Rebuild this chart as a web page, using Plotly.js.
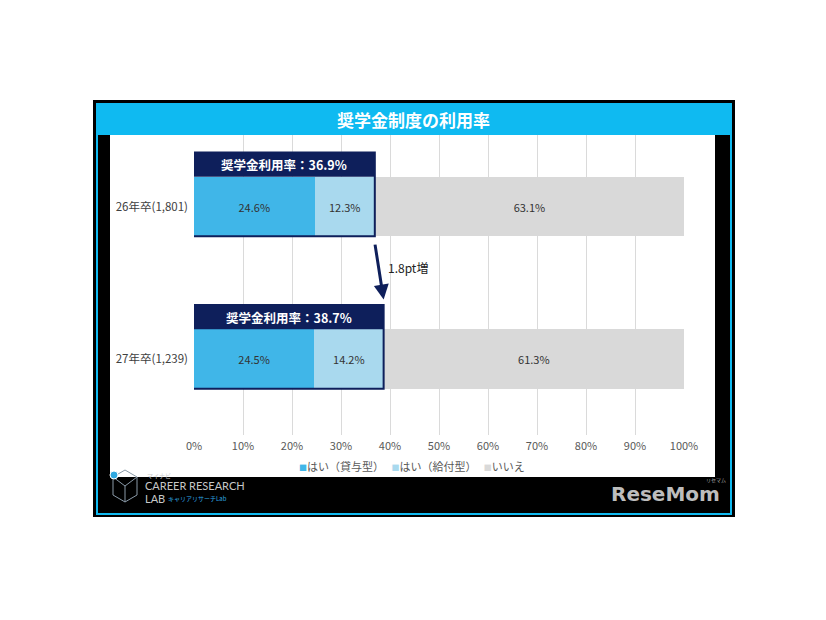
<!DOCTYPE html>
<html>
<head>
<meta charset="utf-8">
<script src="https://cdn.plot.ly/plotly-3.0.1.min.js"></script>
<style>html,body{margin:0;padding:0;background:#fff;}#chart{width:826px;height:620px;}</style>
</head>
<body>
<div id="chart"></div>
<script>
// ---- data ----
const chartTitle = '奨学金制度の利用率';
const categories = ['26年卒(1,801)', '27年卒(1,239)'];
const seriesNames = ['はい（貸与型）', 'はい（給付型）', 'いいえ'];
const loanValues = [24.6, 24.5];
const grantValues = [12.3, 14.2];
const noValues = [63.1, 61.3];
const usageRates = [36.9, 38.7];
const usageLabel = '奨学金利用率：';
const diffLabel = '1.8pt増';
const xTickValues = [0, 10, 20, 30, 40, 50, 60, 70, 80, 90, 100];

// ---- styles ----
const FONT = 'Noto Sans CJK JP, Noto Sans, sans-serif';
const colors = ['#40B6E8', '#A9D9EE', '#D9D9D9'];
const NAVY = '#0E1F5B';
const CYAN = '#0FBAF1';
const PLOT_L = 194, PLOT_R = 684, PLOT_T = 135, PLOT_B = 435;
const PX = p => (p - PLOT_L) / (PLOT_R - PLOT_L);
const PY = p => (PLOT_B - p) / (PLOT_B - PLOT_T);
const HALF = 0.195, HEAD = 0.16;

const seriesValues = [loanValues, grantValues, noValues];
const traces = seriesValues.map((vals, k) => ({
  type: 'bar', orientation: 'h', name: seriesNames[k],
  x: vals, y: categories,
  marker: {color: colors[k], line: {width: 0}},
  width: HALF * 2,
  text: vals.map(v => v.toFixed(1) + '%'),
  textposition: 'inside', insidetextanchor: 'middle', constraintext: 'none',
  textfont: {family: FONT, size: 11, color: '#333'},
  hoverinfo: 'skip', showlegend: false
}));

const shapes = [
  {type: 'rect', xref: 'paper', yref: 'paper', x0: PX(93), x1: PX(735), y0: PY(517), y1: PY(100), fillcolor: '#000', line: {width: 0}, layer: 'below'},
  {type: 'rect', xref: 'paper', yref: 'paper', x0: PX(110), x1: PX(715), y0: PY(477), y1: PY(135), fillcolor: '#fff', line: {width: 0}, layer: 'below'},
  {type: 'rect', xref: 'paper', yref: 'paper', x0: PX(96), x1: PX(732), y0: PY(135), y1: PY(103), fillcolor: CYAN, line: {width: 0}, layer: 'below'},
  {type: 'rect', xref: 'paper', yref: 'paper', x0: PX(97), x1: PX(731), y0: PY(514), y1: PY(104), fillcolor: 'rgba(0,0,0,0)', line: {color: CYAN, width: 2}, layer: 'below'},
  // logo icon
  {type: 'path', xref: 'paper', yref: 'paper',
   path: `M${PX(125)},${PY(470)} L${PX(137)},${PY(477)} L${PX(137)},${PY(495)} L${PX(125)},${PY(502)} L${PX(113)},${PY(495)} L${PX(113)},${PY(477)} Z M${PX(113)},${PY(477)} L${PX(125)},${PY(486)} L${PX(137)},${PY(477)} M${PX(125)},${PY(486)} L${PX(125)},${PY(502)}`,
   line: {color: '#8a9aa8', width: 1}, layer: 'above'},
  {type: 'circle', xref: 'paper', yref: 'paper', x0: PX(110), x1: PX(118), y0: PY(479), y1: PY(471), fillcolor: '#2FA8E0', line: {color: '#fff', width: 1}, layer: 'above'}
];

const annotations = [
  {xref: 'paper', yref: 'paper', x: PX(413), y: PY(119), text: '<b>' + chartTitle + '</b>', showarrow: false,
   font: {family: FONT, size: 17, color: '#fff'}, xanchor: 'center', yanchor: 'middle'}
];

usageRates.forEach((r, i) => {
  shapes.push({type: 'rect', xref: 'x', yref: 'y', x0: -0.4, x1: r, y0: i - HALF - HEAD, y1: i - HALF, fillcolor: NAVY, line: {width: 0}, layer: 'above'});
  shapes.push({type: 'rect', xref: 'x', yref: 'y', x0: -0.4, x1: r, y0: i - HALF - HEAD, y1: i + HALF, fillcolor: 'rgba(0,0,0,0)', line: {color: NAVY, width: 2}, layer: 'above'});
  annotations.push({xref: 'x', yref: 'y', x: r / 2, y: i - HALF - HEAD / 2, text: '<b>' + usageLabel + r.toFixed(1) + '%</b>', showarrow: false,
    font: {family: FONT, size: 12.5, color: '#fff'}, xanchor: 'center', yanchor: 'middle'});
});

annotations.push({xref: 'x', yref: 'y', axref: 'x', ayref: 'y',
  x: usageRates[1], y: 1 - HALF - HEAD - 0.035, ax: usageRates[0], ay: HALF + 0.045,
  text: '', showarrow: true, arrowhead: 2, arrowsize: 1, arrowwidth: 3, arrowcolor: NAVY});
annotations.push({xref: 'x', yref: 'y', x: 39.2, y: 0.40, text: diffLabel, showarrow: false,
  font: {family: FONT, size: 12, color: '#222'}, xanchor: 'left', yanchor: 'middle'});

// legend (drawn as text so the small square sits right next to each label)
const legendText = seriesNames.map((n, k) =>
  `<span style="color:${colors[k]};font-size:8px">■</span>${n}`).join('   ');
annotations.push({xref: 'paper', yref: 'paper', x: PX(412), y: PY(466), text: legendText, showarrow: false,
  font: {family: FONT, size: 11, color: '#595959'}, xanchor: 'center', yanchor: 'middle'});

// bottom logos
annotations.push({xref: 'paper', yref: 'paper', x: PX(145), y: PY(475), text: 'マイナビ', showarrow: false,
  font: {family: FONT, size: 6, color: '#ccc'}, xanchor: 'left', yanchor: 'middle'});
annotations.push({xref: 'paper', yref: 'paper', x: PX(143), y: PY(485), text: 'CAREER RESEARCH', showarrow: false,
  font: {family: 'Lato, sans-serif', size: 11, color: '#c8c8c8'}, xanchor: 'left', yanchor: 'middle'});
annotations.push({xref: 'paper', yref: 'paper', x: PX(143), y: PY(498), text: 'LAB', showarrow: false,
  font: {family: 'Lato, sans-serif', size: 11, color: '#c8c8c8'}, xanchor: 'left', yanchor: 'middle'});
annotations.push({xref: 'paper', yref: 'paper', x: PX(166), y: PY(498), text: 'キャリアリサーチLab', showarrow: false,
  font: {family: FONT, size: 6, color: '#2FA8E0'}, xanchor: 'left', yanchor: 'middle'});
annotations.push({xref: 'paper', yref: 'paper', x: PX(722), y: PY(494), text: '<b>ReseMom</b>', showarrow: false,
  font: {family: 'DejaVu Sans, sans-serif', size: 20, color: '#bdbdbd'}, xanchor: 'right', yanchor: 'middle'});
annotations.push({xref: 'paper', yref: 'paper', x: PX(716), y: PY(480), text: 'リセマム', showarrow: false,
  font: {family: FONT, size: 5, color: '#aaa'}, xanchor: 'center', yanchor: 'middle'});

const layout = {
  width: 826, height: 620,
  margin: {l: PLOT_L, r: 826 - PLOT_R, t: PLOT_T, b: 620 - PLOT_B, pad: 0},
  paper_bgcolor: '#fff', plot_bgcolor: 'rgba(0,0,0,0)',
  barmode: 'stack', bargap: 0, showlegend: false,
  font: {family: FONT, size: 11, color: '#444'},
  xaxis: {range: [0, 100], tickvals: xTickValues, ticktext: xTickValues.map(v => v + '%'),
    showgrid: true, gridcolor: '#DADADA', gridwidth: 1, zeroline: false, showline: false,
    ticks: '', ticklabelstandoff: 3, tickfont: {family: FONT, size: 11, color: '#595959'}, fixedrange: true},
  yaxis: {type: 'category', categoryarray: categories, categoryorder: 'array', autorange: false,
    range: [1.498, -0.469], showgrid: false, zeroline: false, showline: false, ticks: '',
    ticklabelstandoff: 5,
    tickfont: {family: FONT, size: 11.5, color: '#404040'}, fixedrange: true},
  shapes: shapes, annotations: annotations
};

Plotly.newPlot('chart', traces, layout, {displayModeBar: false, staticPlot: true});
</script>
</body>
</html>
